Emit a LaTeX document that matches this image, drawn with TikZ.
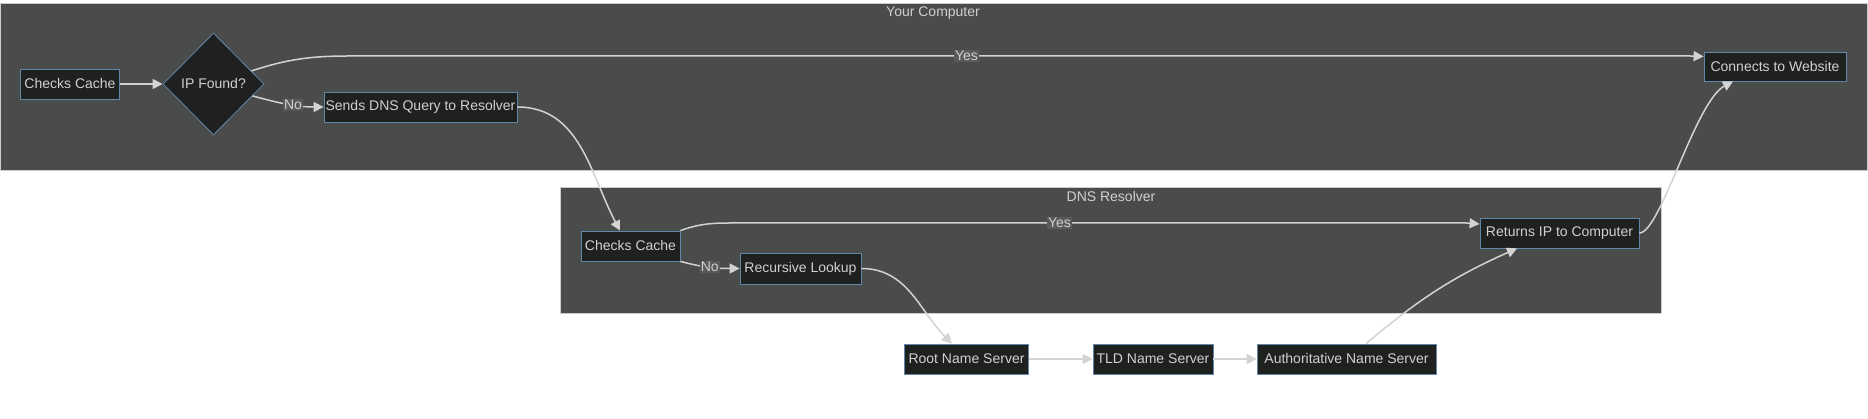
\documentclass[tikz,border=0pt]{standalone}
\usepackage{fontspec}
\setmainfont{Liberation Sans}
\usetikzlibrary{positioning, arrows.meta, shapes.geometric}

\definecolor{clusterbg}{HTML}{4A4B4B}
\definecolor{clusterln}{HTML}{CDCDCD}
\definecolor{nodebg}{HTML}{1F2121}
\definecolor{nodeln}{HTML}{6286AA}
\definecolor{txtcol}{HTML}{D0D0D0}
\definecolor{linkcol}{HTML}{D3D3D3}
\definecolor{lblbg}{HTML}{5A5A5A}

\tikzset{
  box/.style = {rectangle, draw=nodeln, fill=nodebg, text=txtcol, line width=0.8pt,
    minimum height=30pt, inner sep=0pt},
  decision/.style = {diamond, draw=nodeln, fill=nodebg, text=txtcol, line width=0.8pt,
    minimum width=101pt, minimum height=102pt, inner sep=0pt},
  cluster/.style = {draw=clusterln, fill=clusterbg, line width=0.6pt},
  ctitle/.style = {text=txtcol, inner sep=0pt},
  link/.style = {draw=linkcol, line width=1.5pt, -{Triangle[length=10pt,width=10pt]}},
  lbl/.style = {fill=lblbg, text=txtcol, inner sep=1pt}
}

\begin{document}
\begin{tikzpicture} [x = 1pt, y = 1pt, node distance = 190pt, on grid,
    font = \fontsize{14}{16}\selectfont]

        \fill[white] (0,0) rectangle (1868,419);
        \useasboundingbox (0,0) rectangle (1868,419);

        % subgraphs
        \draw[cluster] (0.5,416) rectangle (1867.5,249);
        \draw[cluster] (560,232) rectangle (1661,106);
        \node (tpc) [ctitle] at (933,406) {Your Computer};
        \node (tdns) [ctitle] at (1111,222) {DNS Resolver};

        \node (chk1) [box, minimum width=99pt] at (70,335) {Checks Cache};
        \node (ipf) [decision] at (213.5,335) {IP Found?};
        \node (sends) [box, minimum width=193pt] at (420.5,312) {Sends DNS Query to Resolver};
        \node (conn) [box, minimum width=142pt, minimum height=29pt] at (1775,352.5)
        {Connects to Website};

        \node (chk2) [box, minimum width=99pt] at (630.5,173) {Checks Cache};
        \node (rec) [box, minimum width=121pt, minimum height=31pt] at (800.5,150.5)
        {Recursive Lookup};
        \node (ret) [box, minimum width=159pt] at (1559.5,186) {Returns IP to Computer};

        \node (root) [box, minimum width=124pt] at (966.5,60) {Root Name Server};
        \node (tld) [box, minimum width=120pt, right = 186.5pt of root] {TLD Name Server};
        \node (auth) [box, minimum width=179pt, right = 193.5pt of tld]
        {Authoritative Name Server};

        \draw[link] (chk1) -- (ipf);
        \draw[link] (ipf.-17) to[out=-15, in=180] node[lbl, pos=0.58] {No} (sends);
        \draw[link] (ipf.19) to[out=18, in=180] (350,363) -- node[lbl, pos=0.46] {Yes}
         (1690,363) -- ([yshift=10pt]conn.west);
        \draw[link] (sends) to[out=0, in=118] ([xshift=-10.5pt]chk2.north);

        \draw[link] (chk2.north east) to[out=20, in=180] (740,196) -- node[lbl, pos=0.44]
         {Yes} (1466,196) -- ([yshift=9pt]ret.west);
        \draw[link] (chk2.south east) to[out=-15, in=180] node[lbl, pos=0.5] {No} (rec);
        \draw[link] (rec) to[out=0, in=135] ([xshift=-14.5pt]root.north);
        \draw[link] (root) -- (tld);
        \draw[link] (tld) -- (auth);
        \draw[link] ([xshift=19.5pt]auth.north) to[out=40, in=-156] ([xshift=-42.5pt]ret.south);
        \draw[link] (ret) to[out=0, in=-152, out distance=21pt, in distance=43pt]
         ([xshift=-42pt]conn.south);

    \end{tikzpicture}
\end{document}
